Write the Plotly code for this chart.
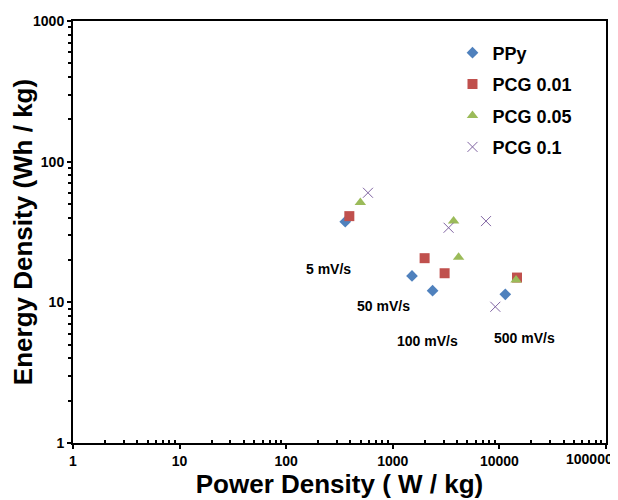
import math
import plotly.graph_objects as go

# Power density (W/kg) and energy density (Wh/kg) at 5, 50, 100, 500 mV/s
series_names = ["PPy", "PCG 0.01", "PCG 0.05", "PCG 0.1"]
ppy_power = [358, 1514, 2362, 11360]
ppy_energy = [37.4, 15.4, 12.1, 11.4]
pcg001_power = [391, 1988, 3062, 14630]
pcg001_energy = [41.0, 20.6, 16.1, 15.0]
pcg005_power = [496, 4142, 3718, 14320]
pcg005_energy = [51.3, 20.9, 37.8, 14.4]
pcg01_power = [585, 3337, 7485, 9156]
pcg01_energy = [60.1, 33.9, 37.8, 9.3]

rate_labels = ["5 mV/s", "50 mV/s", "100 mV/s", "500 mV/s"]
rate_label_power = [248, 815, 2110, 17140]
rate_label_energy = [17.3, 9.4, 5.3, 5.6]

x_tick_vals = [1, 10, 100, 1000, 10000, 100000]
x_tick_text = ["1", "10", "100", "1000", "10000", ""]
last_x_tick_text = "100000"
y_tick_vals = [1, 10, 100, 1000]
y_tick_text = ["1", "10", "100", "1000"]
x_minor_vals = [m * 10 ** d for d in range(0, 5) for m in range(2, 10)]
y_minor_vals = [m * 10 ** d for d in range(0, 3) for m in range(2, 10)]

FONT = "Liberation Sans, Arial, sans-serif"

styles = [
    dict(symbol="diamond", color="#4F81BD", size=9, line=dict(width=0)),
    dict(symbol="square", color="#C0504D", size=10, line=dict(width=0)),
    dict(symbol="triangle-up", color="#9BBB59", size=10, line=dict(width=0)),
    dict(symbol="x-thin", color="#8064A2", size=10, line=dict(width=1, color="#8064A2")),
]
xs = [ppy_power, pcg001_power, pcg005_power, pcg01_power]
ys = [ppy_energy, pcg001_energy, pcg005_energy, pcg01_energy]

fig = go.Figure()
for name, x, y, st in zip(series_names, xs, ys, styles):
    fig.add_trace(go.Scatter(x=x, y=y, mode="markers", name=name, legendgroup=name,
                             marker=st))

tickfont = dict(family=FONT, size=14, color="black", weight="bold")
annotations = []
for txt, px, py in zip(rate_labels, rate_label_power, rate_label_energy):
    annotations.append(dict(x=math.log10(px), y=math.log10(py), xref="x", yref="y",
                            text=txt, showarrow=False,
                            font=dict(family=FONT, size=14, color="black", weight="bold")))
annotations.append(dict(x=1, y=0, xref="paper", yref="paper", xanchor="right", yanchor="top",
                        xshift=9, yshift=-6, text=last_x_tick_text, showarrow=False,
                        font=tickfont))

fig.update_layout(
    width=618, height=500,
    margin=dict(l=65, r=20, t=13, b=65),
    paper_bgcolor="white", plot_bgcolor="white",
    font=dict(family=FONT, color="black"),
    showlegend=True,
    legend=dict(x=0.712, y=0.968, xanchor="left", yanchor="top",
                bgcolor="rgba(0,0,0,0)", tracegroupgap=5,
                font=dict(family=FONT, size=18, color="black", weight="bold")),
    annotations=annotations,
)
fig.update_xaxes(
    type="log", range=[0, 5], showgrid=False, zeroline=False, automargin=False,
    showline=True, linecolor="black", linewidth=2, mirror=True,
    ticks="outside", ticklen=4, tickwidth=2, tickcolor="black",
    tickvals=x_tick_vals, ticktext=x_tick_text,
    tickfont=tickfont,
    minor=dict(ticks="inside", ticklen=3, tickwidth=1.5, tickcolor="black",
               showgrid=False, tickvals=x_minor_vals),
    title=dict(text="Power Density ( W / kg)", standoff=3,
               font=dict(family=FONT, size=26, color="black", weight="bold")),
)
fig.update_yaxes(
    type="log", range=[0, 3], showgrid=False, zeroline=False, automargin=False,
    showline=True, linecolor="black", linewidth=2, mirror=True,
    ticks="outside", ticklen=4, tickwidth=2, tickcolor="black",
    tickvals=y_tick_vals, ticktext=y_tick_text,
    tickfont=tickfont,
    minor=dict(ticks="outside", ticklen=3, tickwidth=1.5, tickcolor="black",
               showgrid=False, tickvals=y_minor_vals),
    title=dict(text="Energy Density (Wh / kg)", standoff=1,
               font=dict(family=FONT, size=26, color="black", weight="bold")),
)

fig.write_html("out.html")
